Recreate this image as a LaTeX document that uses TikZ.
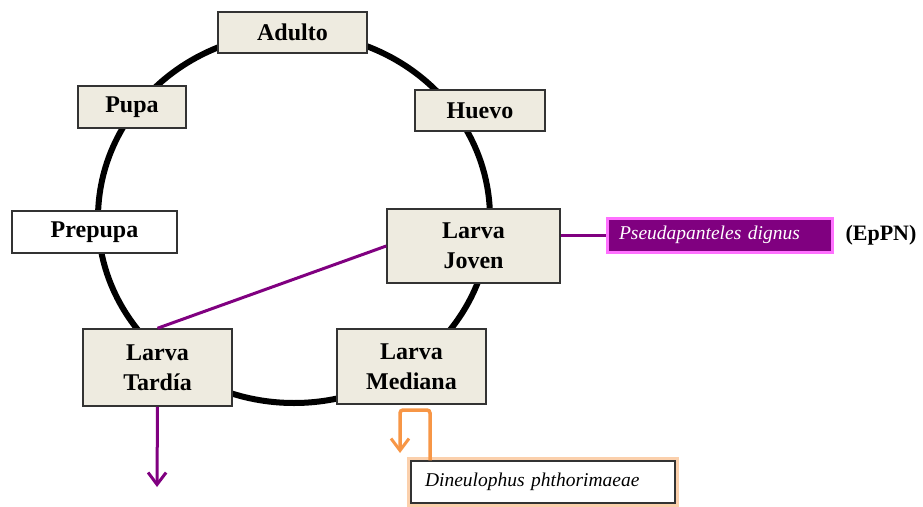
\documentclass[tikz,border=0pt]{standalone}
\usepackage{fontspec}
\setmainfont{Liberation Serif}
\usetikzlibrary{arrows.meta}
\definecolor{fondoetapa}{HTML}{EEEBE0}
\definecolor{bordeetapa}{HTML}{333333}
\definecolor{morado}{HTML}{800080}
\definecolor{rosa}{HTML}{FF70FF}
\definecolor{naranja}{HTML}{F79646}
\begin{document}
\begin{tikzpicture}[x=1pt, y=-1pt,
        etapa/.style={draw=bordeetapa, line width=1.5pt, fill=fondoetapa, inner sep=0pt,
            align=center, font=\fontsize{24}{30}\selectfont\bfseries},
        parasito/.style={inner xsep=12pt, inner ysep=0pt, align=left,
            font=\fontsize{19.5}{22}\selectfont\itshape},
        enlace/.style={morado, line width=3pt},
        punta/.style={-{Straight Barb[length=12pt, width=18pt, line width=3pt]}}]
        \useasboundingbox (0,0) rectangle (923,506);
        \draw[line width=6pt] (294,218) ellipse [x radius=196, y radius=185];
        \node[etapa, minimum width=149pt, minimum height=41pt] (adulto) at (292.5,32.5) {Adulto};
        \node[etapa, minimum width=108pt, minimum height=42pt] (pupa) at (132,107) {Pupa};
        \node[etapa, minimum width=130pt, minimum height=41pt] (huevo) at (480,110.5) {Huevo};
        \node[etapa, fill=white, minimum width=165pt, minimum height=42pt] (prepupa) at (94.5,232) {Prepupa};
        \node[etapa, minimum width=173pt, minimum height=74pt] (ljoven) at (473.5,246) {Larva\\Joven};
        \node[etapa, minimum width=149pt, minimum height=77pt] (ltardia) at (157.5,367.5) {Larva\\Tard\'ia};
        \node[etapa, minimum width=149pt, minimum height=75pt] (lmediana) at (411.5,366.5) {Larva\\Mediana};
        \node[parasito, draw=rosa, line width=3pt, fill=morado, text=white, text width=201pt,
            minimum height=34pt] (pseuda) at (719.5,235) {Pseudapanteles dignus};
        \node[font=\fontsize{22}{26}\selectfont\bfseries] (eppn) at (881,235) {(EpPN)};
        \node[parasito, inner xsep=14pt, draw=bordeetapa, line width=1.5pt, fill=white,
            preaction={draw=naranja!45, line width=8pt}, text width=236pt,
            minimum height=42pt] (dineu) at (543,482) {Dineulophus phthorimaeae};
        \coordinate (finTardia) at (157,487);
        \coordinate (finDineu) at (400,453);
        \draw[enlace] (ljoven.west) -- (ltardia.north);
        \draw[enlace] (ljoven.east |- pseuda.west) -- (pseuda.west);
        \draw[enlace, punta] (ltardia.south) -- (finTardia);
        \draw[naranja, line width=3.5pt, rounded corners=3pt, punta]
            (dineu.north -| 430,0) -- (430,410) -- (400,410) -- (finDineu);
    \end{tikzpicture}
\end{document}
